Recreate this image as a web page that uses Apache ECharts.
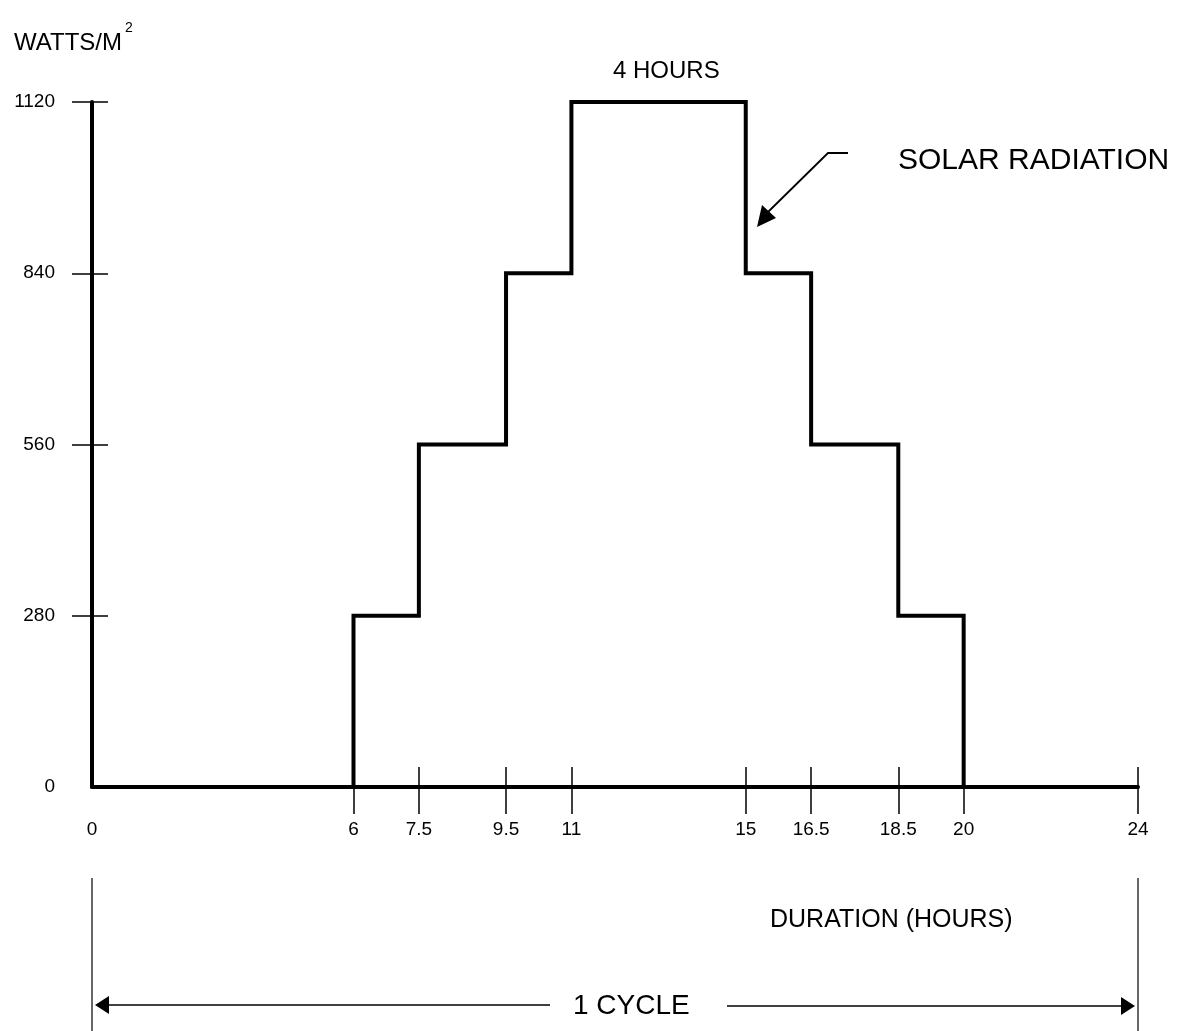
<!DOCTYPE html>
<html>
<head>
<meta charset="utf-8">
<title>Solar radiation cycle</title>
<script src="https://cdn.jsdelivr.net/npm/echarts@6/dist/echarts.min.js"></script>
<style>
  html, body { margin: 0; padding: 0; background: #fff; }
  #chart { width: 1180px; height: 1031px; }
</style>
</head>
<body>
<div id="chart"></div>
<script>
  // step profile: value holds from each hour until the next one
  var hours = [0, 6, 7.5, 9.5, 11, 15, 16.5, 18.5, 20, 24];
  var watts = [0, 280, 560, 840, 1120, 840, 560, 280, 0, 0];
  var xTicks = [6, 7.5, 9.5, 11, 15, 16.5, 18.5, 20, 24];
  var xLabels = [0, 6, 7.5, 9.5, 11, 15, 16.5, 18.5, 20, 24];
  var yTicks = [280, 560, 840, 1120];
  var yLabels = [0, 280, 560, 840, 1120];

  var font = "Liberation Sans";
  var myChart = echarts.init(document.getElementById("chart"));

  var gridBox = {left: 92, right: 42, top: 102, bottom: 244};

  function plain(v) {
    return String(v);
  }

  // small helper for the free text annotations
  function label(x, y, text, size, align) {
    return {
      type: "text",
      x: x,
      y: y,
      style: {
        text: text,
        font: size + "px " + font,
        fill: "#000",
        align: align || "left",
        verticalAlign: "middle"
      }
    };
  }

  myChart.setOption({
    backgroundColor: "#fff",
    animation: false,
    textStyle: {fontFamily: font, color: "#000"},
    title: {
      left: 9,
      top: 16,
      text: "{a|WATTS/M}{s|2}",
      textStyle: {
        fontWeight: "normal",
        rich: {
          a: {fontFamily: font, fontSize: 24, fontWeight: "normal", color: "#000", verticalAlign: "bottom"},
          s: {fontFamily: font, fontSize: 14, fontWeight: "normal", color: "#000", padding: [0, 0, 20, 3]}
        }
      }
    },
    grid: [
      Object.assign({}, gridBox),
      Object.assign({}, gridBox)
    ],
    xAxis: [
      {
        type: "value",
        gridIndex: 0,
        min: 0,
        max: 24,
        splitLine: {show: false},
        axisLine: {lineStyle: {color: "#000", width: 4}},
        axisTick: {
          show: true,
          customValues: xTicks,
          length: 27,
          lineStyle: {color: "#000", width: 1.5}
        },
        axisLabel: {
          customValues: xLabels,
          formatter: plain,
          margin: 33,
          fontSize: 19,
          color: "#000",
          fontFamily: font
        }
      },
      {
        // second copy only to draw the inner half of the crossing ticks
        type: "value",
        gridIndex: 1,
        min: 0,
        max: 24,
        splitLine: {show: false},
        axisLine: {show: false},
        axisTick: {
          show: true,
          inside: true,
          customValues: xTicks,
          length: 20,
          lineStyle: {color: "#000", width: 1.5}
        },
        axisLabel: {show: false}
      }
    ],
    yAxis: [
      {
        type: "value",
        gridIndex: 0,
        min: 0,
        max: 1120,
        interval: 280,
        splitLine: {show: false},
        axisLine: {show: true, lineStyle: {color: "#000", width: 4}},
        axisTick: {
          show: true,
          customValues: yTicks,
          length: 20,
          lineStyle: {color: "#000", width: 1.5}
        },
        axisLabel: {
          customValues: yLabels,
          formatter: plain,
          margin: 37,
          fontSize: 19,
          color: "#000",
          fontFamily: font
        }
      },
      {
        type: "value",
        gridIndex: 1,
        min: 0,
        max: 1120,
        interval: 280,
        splitLine: {show: false},
        axisLine: {show: false},
        axisTick: {
          show: true,
          inside: true,
          customValues: yTicks,
          length: 16,
          lineStyle: {color: "#000", width: 1.5}
        },
        axisLabel: {show: false}
      }
    ],
    series: [
      {
        name: "SOLAR RADIATION",
        type: "line",
        xAxisIndex: 0,
        yAxisIndex: 0,
        step: "end",
        symbol: "none",
        data: hours.map(function (h, i) { return [h, watts[i]]; }),
        lineStyle: {color: "#000", width: 4, join: "miter"}
      }
    ],
    graphic: [
      // 4 HOURS label over the top plateau
      label(613, 71, "4 HOURS", 24),
      // series annotation with pointer arrow
      label(898, 161, "SOLAR RADIATION", 30),
      {type: "polyline", shape: {points: [[848, 153], [828, 153], [768, 212]]}, style: {stroke: "#000", lineWidth: 1.8, fill: null}},
      {type: "polygon", shape: {points: [[757, 227], [762, 205], [776, 218]]}, style: {fill: "#000"}},
      // axis caption
      label(770, 920, "DURATION (HOURS)", 25),
      // 1 cycle bracket
      {type: "line", shape: {x1: 92, y1: 878, x2: 92, y2: 1031}, style: {stroke: "#000", lineWidth: 1.2}},
      {type: "line", shape: {x1: 1138, y1: 878, x2: 1138, y2: 1031}, style: {stroke: "#000", lineWidth: 1.2}},
      {type: "line", shape: {x1: 100, y1: 1005, x2: 550, y2: 1005}, style: {stroke: "#000", lineWidth: 1.5}},
      {type: "line", shape: {x1: 727, y1: 1006, x2: 1128, y2: 1006}, style: {stroke: "#000", lineWidth: 1.5}},
      {type: "polygon", shape: {points: [[95, 1005], [109, 996], [109, 1014]]}, style: {fill: "#000"}},
      {type: "polygon", shape: {points: [[1135, 1006], [1121, 997], [1121, 1015]]}, style: {fill: "#000"}},
      label(573, 1006, "1 CYCLE", 28)
    ]
  });
</script>
</body>
</html>
